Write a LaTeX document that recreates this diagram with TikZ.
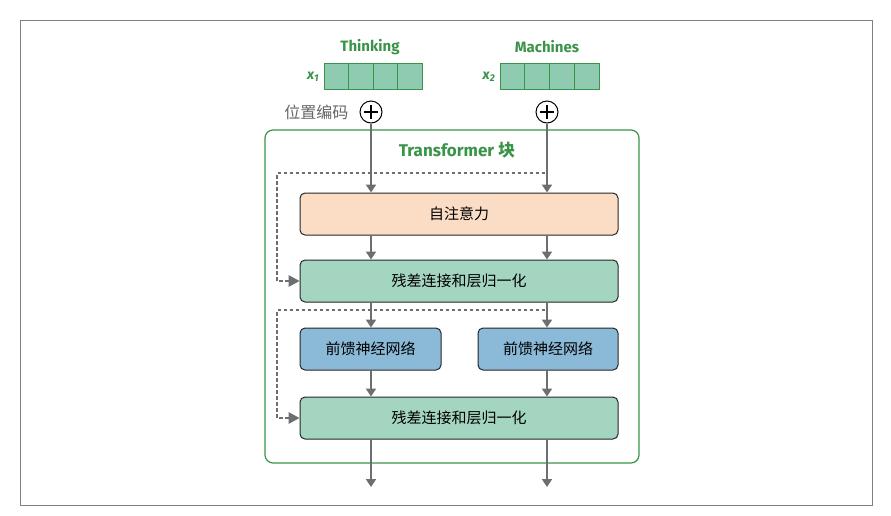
\documentclass[tikz,border=0pt]{standalone}
\usepackage{fontspec}
\setmainfont{Fira Sans}
\newfontfamily\cjk{Noto Sans CJK SC}
\usetikzlibrary{arrows.meta}
\definecolor{gr}{HTML}{3A9448}
\definecolor{ar}{HTML}{6D6E71}
\definecolor{peach}{HTML}{FBDDC6}
\definecolor{mint}{HTML}{A4D5C0}
\definecolor{cell}{HTML}{8FCBB0}
\definecolor{blu}{HTML}{8BBAD9}
\begin{document}
\begin{tikzpicture}[x=1pt,y=-1pt,
  box/.style={draw=black!85,line width=1pt,rounded corners=5pt,font=\cjk\fontsize{15}{15}\selectfont,inner sep=0},
  arr/.style={draw=ar,line width=2pt,-{Triangle[length=8pt,width=10pt]}},
  dsh/.style={draw=ar,line width=1.6pt,dash pattern=on 3.5pt off 2.5pt},
  plus/.style={circle,draw=black,line width=1pt,minimum size=22pt,inner sep=0,fill=white}]
\useasboundingbox (0,0) rectangle (891,515);
\draw[black!50,line width=0.6pt] (20,20) rectangle (872,505);
\node[text=gr,font=\fontsize{15}{15}\selectfont\bfseries] (t1) at (370,47) {Thinking};
\node[text=gr,font=\fontsize{15}{15}\selectfont\bfseries] (t2) at (547,47) {Machines};
\foreach \i in {0,1,2,3}{
  \draw[draw=gr,fill=cell,line width=1pt] (324+24.5*\i,63) rectangle ++(24.5,26);
  \draw[draw=gr,fill=cell,line width=1pt] (500+24.75*\i,63) rectangle ++(24.75,26);}
\node[text=gr,font=\bfseries\itshape\fontsize{14}{14}\selectfont] (x1) at (313,77) {x\textsubscript{1}};
\node[text=gr,font=\bfseries\itshape\fontsize{14}{14}\selectfont] (x2) at (489,77) {x\textsubscript{2}};
\node[plus] (p1) at (371,112) {};
\node[plus] (p2) at (547,112) {};
\foreach \p in {p1,p2}{\draw[line width=2.5pt] ([xshift=-7pt]\p.center) -- ([xshift=7pt]\p.center) ([yshift=-7pt]\p.center) -- ([yshift=7pt]\p.center);}
\node[anchor=east,text=black!60,font=\cjk\fontsize{16}{16}\selectfont] (pe) at (352,112) {位置编码};
\draw[gr,line width=1.2pt,rounded corners=8pt] (265,130) rectangle (639,463);
\node[text=gr,font=\fontsize{17}{17}\selectfont\bfseries] (tt) at (457,150) {Transformer {\cjk 块}};
\node[box,fill=peach,minimum width=318pt,minimum height=42pt] (att) at (459,214) {自注意力};
\node[box,fill=mint,minimum width=318pt,minimum height=42pt] (ln1) at (459,281) {残差连接和层归一化};
\node[box,fill=blu,minimum width=141pt,minimum height=42pt] (f1) at (370.5,349) {前馈神经网络};
\node[box,fill=blu,minimum width=140pt,minimum height=42pt] (f2) at (548,349) {前馈神经网络};
\node[box,fill=mint,minimum width=318pt,minimum height=42pt] (ln2) at (459,418) {残差连接和层归一化};
\coordinate (o1) at (371,487); \coordinate (o2) at (547,487);
\draw[arr] (p1) -- (p1 |- att.north);
\draw[arr] (p2) -- (p2 |- att.north);
\draw[arr] (p1 |- att.south) -- (p1 |- ln1.north);
\draw[arr] (p2 |- att.south) -- (p2 |- ln1.north);
\draw[arr] (p1 |- ln1.south) -- (p1 |- f1.north);
\draw[arr] (p2 |- ln1.south) -- (p2 |- f2.north);
\draw[arr] (p1 |- f1.south) -- (p1 |- ln2.north);
\draw[arr] (p2 |- f2.south) -- (p2 |- ln2.north);
\draw[arr] (p1 |- ln2.south) -- (o1);
\draw[arr] (p2 |- ln2.south) -- (o2);
\draw[dsh] (545,173) -- (277,173) -- (277,281) -- (290,281);
\draw[dsh] (545,310) -- (277,310) -- (277,418) -- (290,418);
\fill[ar] (ln1.west) -- ++(-11,-6) -- ++(0,12) -- cycle;
\fill[ar] (ln2.west) -- ++(-11,-6) -- ++(0,12) -- cycle;
\end{tikzpicture}
\end{document}
